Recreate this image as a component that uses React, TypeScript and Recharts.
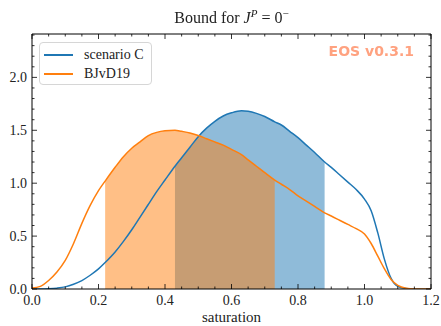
import React from 'react';
import {
  ComposedChart,
  Area,
  Line,
  XAxis,
  YAxis,
  Legend
} from 'recharts';

// saturation grid and read-off densities
const saturation = [
  0, 0.025, 0.05, 0.075, 0.1, 0.125, 0.15, 0.175, 0.2, 0.22, 0.25, 0.275, 0.3, 0.325, 0.35, 0.375,
  0.4, 0.43, 0.45, 0.475, 0.5, 0.525, 0.55, 0.575, 0.6, 0.63, 0.65, 0.675, 0.7, 0.73, 0.75, 0.775,
  0.8, 0.825, 0.85, 0.88, 0.9, 0.925, 0.95, 0.975, 1.0, 1.02, 1.04, 1.06, 1.08, 1.1, 1.125, 1.15, 1.2,
];

const scenarioC = [
  0, 0, 0.002, 0.008, 0.02, 0.045, 0.08, 0.13, 0.19, 0.25, 0.35, 0.45, 0.56, 0.68, 0.8, 0.92,
  1.03, 1.16, 1.24, 1.34, 1.44, 1.52, 1.585, 1.635, 1.665, 1.685, 1.68, 1.66, 1.63, 1.58, 1.55, 1.49,
  1.43, 1.36, 1.29, 1.2, 1.15, 1.08, 1.01, 0.94, 0.85, 0.74, 0.53, 0.28, 0.1, 0.025, 0.005, 0, 0,
];

const bjvd19 = [
  0.01, 0.025, 0.08, 0.16, 0.27, 0.43, 0.62, 0.79, 0.93, 1.02, 1.15, 1.25, 1.33, 1.39, 1.45, 1.48,
  1.495, 1.5, 1.49, 1.475, 1.45, 1.42, 1.39, 1.36, 1.32, 1.27, 1.22, 1.16, 1.1, 1.03, 0.99, 0.94,
  0.88, 0.83, 0.78, 0.72, 0.69, 0.65, 0.61, 0.57, 0.52, 0.43, 0.31, 0.19, 0.09, 0.035, 0.008, 0.001, 0,
];

// 68% intervals (shaded)
const scenarioCBand = [0.43, 0.88];
const bjvd19Band = [0.22, 0.73];

const xTicks = [
  0, 0.05, 0.1, 0.15, 0.2, 0.25, 0.3, 0.35, 0.4, 0.45, 0.5, 0.55, 0.6,
  0.65, 0.7, 0.75, 0.8, 0.85, 0.9, 0.95, 1.0, 1.05, 1.1, 1.15, 1.2,
];
const xLabels = [0, 0.2, 0.4, 0.6, 0.8, 1.0, 1.2];
const yTicks = [
  0, 0.1, 0.2, 0.3, 0.4, 0.5, 0.6, 0.7, 0.8, 0.9, 1.0, 1.1, 1.2,
  1.3, 1.4, 1.5, 1.6, 1.7, 1.8, 1.9, 2.0, 2.1, 2.2, 2.3, 2.4,
];
const yLabels = [0, 0.5, 1.0, 1.5, 2.0];

const BLUE = '#1f77b4';
const ORANGE = '#ff7f0e';
const SERIF = '"Liberation Serif", "Times New Roman", serif';

const inBand = (x: number, band: number[]) => x >= band[0] - 1e-9 && x <= band[1] + 1e-9;

const data = saturation.map((x, i) => ({
  x,
  scen: scenarioC[i],
  bjvd: bjvd19[i],
  scenBand: inBand(x, scenarioCBand) ? scenarioC[i] : null,
  bjvdBand: inBand(x, bjvd19Band) ? bjvd19[i] : null,
}));

const isMajor = (v: number, majors: number[]) => majors.some((m) => Math.abs(m - v) < 1e-6);

const BottomTick = (props: any) => {
  const { x, y, payload } = props;
  const major = isMajor(payload.value, xLabels);
  return (
    <g>
      <line x1={x} x2={x} y1={y} y2={y - (major ? 5 : 2.5)} stroke="#000" strokeWidth={0.8} />
      {major && (
        <text x={x} y={y + 16} textAnchor="middle" style={{ fontFamily: SERIF, fontSize: 14 }} fill="#222">
          {payload.value.toFixed(1)}
        </text>
      )}
    </g>
  );
};

const TopTick = (props: any) => {
  const { x, y, payload } = props;
  const major = isMajor(payload.value, xLabels);
  return <line x1={x} x2={x} y1={y} y2={y + (major ? 5 : 2.5)} stroke="#000" strokeWidth={0.8} />;
};

const LeftTick = (props: any) => {
  const { x, y, payload } = props;
  const major = isMajor(payload.value, yLabels);
  return (
    <g>
      <line x1={x} x2={x + (major ? 5 : 2.5)} y1={y} y2={y} stroke="#000" strokeWidth={0.8} />
      {major && (
        <text x={x - 5} y={y} dy="0.35em" textAnchor="end" style={{ fontFamily: SERIF, fontSize: 14 }} fill="#222">
          {payload.value.toFixed(1)}
        </text>
      )}
    </g>
  );
};

const RightTick = (props: any) => {
  const { x, y, payload } = props;
  const major = isMajor(payload.value, yLabels);
  return <line x1={x} x2={x - (major ? 5 : 2.5)} y1={y} y2={y} stroke="#000" strokeWidth={0.8} />;
};

const legendOrder = ['scenario C', 'BJvD19'];

const LegendBox = (props: any) => {
  const items = (props.payload || [])
    .filter((p: any) => legendOrder.includes(p.value))
    .sort((a: any, b: any) => legendOrder.indexOf(a.value) - legendOrder.indexOf(b.value));
  return (
    <div
      style={{
        width: 113,
        height: 43,
        boxSizing: 'border-box',
        border: '1px solid #d6d6d6',
        borderRadius: 4,
        background: 'rgba(255,255,255,0.8)',
        padding: '2px 0 0 4px',
      }}
    >
      {items.map((p: any) => (
        <div key={p.value} style={{ display: 'flex', alignItems: 'center', height: 19.5 }}>
          <span style={{ display: 'inline-block', width: 29, height: 2, background: p.color, marginRight: 11 }} />
          <span style={{ fontFamily: SERIF, fontSize: 14, color: '#222', lineHeight: '14px' }}>{p.value}</span>
        </div>
      ))}
    </div>
  );
};

export default function App() {
  return (
    <div style={{ position: 'fixed', left: 0, top: 0, width: 441, height: 326, background: '#fff' }}>
      <ComposedChart width={441} height={326} data={data} margin={{ top: 33, right: 9, left: 0, bottom: 0 }}>
        <XAxis
          dataKey="x"
          type="number"
          domain={[0, 1.2]}
          ticks={xTicks}
          interval={0}
          tickSize={0}
          tickMargin={0}
          tickLine={false}
          tick={<BottomTick />}
          axisLine={{ stroke: '#000' }}
          height={37}
          label={{ value: 'saturation', position: 'insideBottom', offset: 4, fontFamily: SERIF, fontSize: 15, fill: '#222' }}
        />
        <XAxis
          xAxisId="top"
          orientation="top"
          dataKey="x"
          type="number"
          domain={[0, 1.2]}
          ticks={xTicks}
          interval={0}
          tickSize={0}
          tickMargin={0}
          tickLine={false}
          tick={<TopTick />}
          axisLine={{ stroke: '#000' }}
          height={1}
        />
        <YAxis
          type="number"
          domain={[0, 2.41]}
          ticks={yTicks}
          interval={0}
          allowDataOverflow
          tickSize={0}
          tickMargin={0}
          tickLine={false}
          tick={<LeftTick />}
          axisLine={{ stroke: '#000' }}
          width={32}
        />
        <YAxis
          yAxisId="right"
          orientation="right"
          type="number"
          domain={[0, 2.41]}
          ticks={yTicks}
          interval={0}
          allowDataOverflow
          tickSize={0}
          tickMargin={0}
          tickLine={false}
          tick={<RightTick />}
          axisLine={{ stroke: '#000' }}
          width={1}
        />
        <Legend
          layout="horizontal"
          verticalAlign="middle"
          align="center"
          content={<LegendBox />}
          wrapperStyle={{ position: 'absolute', left: 39, top: 42, width: 'auto' }}
        />
        <Area
          dataKey="scenBand"
          type="monotone"
          stroke="none"
          fill={BLUE}
          fillOpacity={0.5}
          legendType="none"
          isAnimationActive={false}
        />
        <Area
          dataKey="bjvdBand"
          type="monotone"
          stroke="none"
          fill={ORANGE}
          fillOpacity={0.5}
          legendType="none"
          isAnimationActive={false}
        />
        <Line
          dataKey="scen"
          name="scenario C"
          type="monotone"
          stroke={BLUE}
          strokeWidth={1.5}
          dot={false}
          isAnimationActive={false}
        />
        <Line
          dataKey="bjvd"
          name="BJvD19"
          xAxisId="top"
          yAxisId="right"
          type="monotone"
          stroke={ORANGE}
          strokeWidth={1.5}
          dot={false}
          isAnimationActive={false}
        />
      </ComposedChart>
      <div
        style={{
          position: 'absolute',
          left: 0,
          top: 10,
          width: 463,
          textAlign: 'center',
          fontFamily: SERIF,
          fontSize: 16,
          lineHeight: '16px',
          color: '#222',
          whiteSpace: 'nowrap',
        }}
      >
        Bound for <i>J</i>
        <span style={{ fontSize: 11, position: 'relative', top: -6, fontStyle: 'italic' }}>P</span> = 0
        <span style={{ fontSize: 11, position: 'relative', top: -6 }}>−</span>
      </div>
      <div
        style={{
          position: 'absolute',
          right: 27,
          top: 44,
          fontFamily: '"DejaVu Sans", sans-serif',
          fontWeight: 'bold',
          fontSize: 14,
          lineHeight: '14px',
          color: '#ffa280',
          whiteSpace: 'nowrap',
        }}
      >
        EOS v0.3.1
      </div>
    </div>
  );
}
